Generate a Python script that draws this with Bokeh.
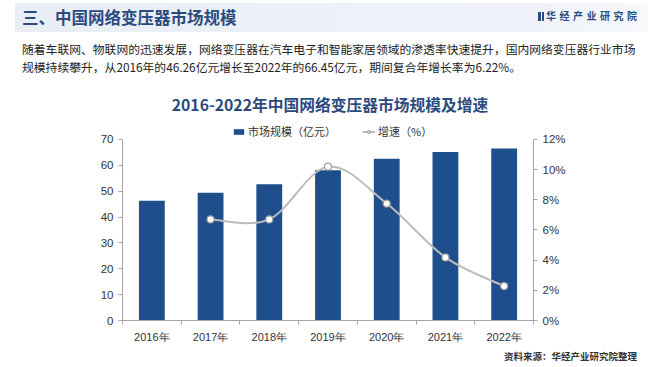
from bokeh.plotting import figure
from bokeh.layouts import column
from bokeh.models import (Range1d, LinearAxis, FixedTicker, PrintfTickFormatter, Div,
                          Legend, LegendItem, ColumnDataSource)
from bokeh.embed import file_html
from bokeh.resources import INLINE

# ---------------- data ----------------
years = ["2016年", "2017年", "2018年", "2019年", "2020年", "2021年", "2022年"]
market = [46.26, 49.36, 52.67, 58.04, 62.54, 65.15, 66.45]          # 市场规模（亿元）
growth_years = ["2017年", "2018年", "2019年", "2020年", "2021年", "2022年"]
growth = [6.70, 6.70, 10.20, 7.75, 4.18, 2.28]                        # 增速（%）
left_ticks = [0, 10, 20, 30, 40, 50, 60, 70]
right_ticks = [0, 2, 4, 6, 8, 10, 12]

header_title = "三、中国网络变压器市场规模"
brand = "华经产业研究院"
para1 = "随着车联网、物联网的迅速发展，网络变压器在汽车电子和智能家居领域的渗透率快速提升，国内网络变压器行业市场"
para2 = "规模持续攀升，从2016年的46.26亿元增长至2022年的66.45亿元，期间复合年增长率为6.22%。"
chart_title = "2016-2022年中国网络变压器市场规模及增速"
source_note = "资料来源：华经产业研究院整理"

BAR = "#1f4e8c"
LINE = "#bcbcbc"
DARK = "#2b4b7e"
AX = "#a6a6a6"
CJK = "Noto Sans CJK SC"
LAT = "Liberation Sans"

idx = list(range(len(years)))
gx = [years.index(y) for y in growth_years]

# ---------------- header (HTML) ----------------
def span(text, left, top, size, color, lh, weight="normal", extra=""):
    return (f'<div style="position:absolute;left:{left}px;top:{top}px;font-family:\'{CJK}\';'
            f'font-size:{size};line-height:{lh}px;color:{color};font-weight:{weight};'
            f'white-space:nowrap;{extra}">{text}</div>')

header_html = (
    '<div style="position:relative;width:660px;height:124px;overflow:visible;">'
    '<div style="position:absolute;left:15px;top:3px;width:633px;height:29px;'
    'background:linear-gradient(90deg,#e9eef6 0%,#eef2f8 80%,#f7f9fc 100%);"></div>'
    f'<div style="position:absolute;left:538px;top:12px;width:2.5px;height:9px;background:{DARK};"></div>'
    f'<div style="position:absolute;left:541.5px;top:12px;width:2.5px;height:9px;background:{DARK};"></div>'
    + span(header_title, 22, 7, "16.5px", DARK, 20, "bold")
    + span(brand, 546, 8, "10px", DARK, 16, "bold", "letter-spacing:3.5px;")
    + span(para1, 22, 40, "11.8px", "#222222", 18)
    + span(para2, 22, 58, "11.8px", "#222222", 18)
    + f'<div style="position:absolute;left:0px;top:95px;width:660px;text-align:center;'
      f'font-family:\'{CJK}\';font-size:15.75px;line-height:20px;color:{DARK};font-weight:bold;'
      f'white-space:nowrap;">{chart_title}</div>'
    + '</div>'
)
header = Div(text=header_html, width=660, height=124, margin=(0, 0, 0, 0))

# ---------------- chart ----------------
DATA_H = 182          # pixel height of the 0..70 span
LEGEND_ROOM = 15      # extra frame room above the top tick for the legend
scale_up = (DATA_H + LEGEND_ROOM) / DATA_H

p = figure(title=None, width=660, height=221,
           min_border_left=122, min_border_right=127,
           min_border_top=0, min_border_bottom=24,
           x_range=Range1d(-0.5, len(years) - 0.5),
           y_range=Range1d(0, left_ticks[-1] * scale_up),
           output_backend="svg", toolbar_location=None, margin=(0, 0, 0, 0),
           background_fill_color="white", border_fill_color="white")
p.outline_line_color = None
p.xgrid.visible = False
p.ygrid.visible = False
p.extra_y_ranges = {"pct": Range1d(0, right_ticks[-1] * scale_up)}

bars = p.vbar(x=idx, top=market, width=0.44, fill_color=BAR, line_color=None)

# smooth growth curve (Catmull-Rom -> cubic Bezier through the data points)
pts = list(zip(gx, growth))
n = len(pts)
seg = dict(x0=[], y0=[], x1=[], y1=[], cx0=[], cy0=[], cx1=[], cy1=[])
for i in range(n - 1):
    p0 = pts[i - 1] if i > 0 else pts[i]
    p1 = pts[i]
    p2 = pts[i + 1]
    p3 = pts[i + 2] if i + 2 < n else pts[i + 1]
    seg["x0"].append(p1[0]); seg["y0"].append(p1[1])
    seg["x1"].append(p2[0]); seg["y1"].append(p2[1])
    seg["cx0"].append(p1[0] + (p2[0] - p0[0]) / 6); seg["cy0"].append(p1[1] + (p2[1] - p0[1]) / 6)
    seg["cx1"].append(p2[0] - (p3[0] - p1[0]) / 6); seg["cy1"].append(p2[1] - (p3[1] - p1[1]) / 6)
curve = p.bezier(x0="x0", y0="y0", x1="x1", y1="y1", cx0="cx0", cy0="cy0", cx1="cx1", cy1="cy1",
                 source=ColumnDataSource(seg), y_range_name="pct", line_color=LINE, line_width=2)
dots = p.scatter(x=gx, y=growth, y_range_name="pct", size=7, fill_color="white",
                 line_color="#a0a0a0", line_width=1.2)

legend = Legend(items=[LegendItem(label="市场规模（亿元）", renderers=[bars]),
                       LegendItem(label="增速（%）", renderers=[curve, dots])],
                orientation="horizontal", location=(110, DATA_H - 1),
                border_line_color=None, background_fill_alpha=0,
                label_text_font_size="11px", label_text_font=CJK, label_text_color="#333333",
                glyph_width=13, glyph_height=7, spacing=26, padding=0, margin=0,
                label_standoff=3, label_height=14)
p.add_layout(legend, "center")

# axes
xa = p.xaxis[0]
xa.ticker = FixedTicker(ticks=idx, minor_ticks=[i - 0.5 for i in range(len(years) + 1)])
xa.major_label_overrides = {i: y for i, y in enumerate(years)}
xa.major_tick_line_color = None
xa.major_tick_out = 0
xa.minor_tick_in = 0
xa.minor_tick_out = 4
xa.minor_tick_line_color = AX
xa.axis_line_color = AX
xa.major_label_standoff = 6
xa.major_label_text_font = LAT
xa.major_label_text_font_size = "11px"
xa.major_label_text_color = "#333333"

ya = p.yaxis[0]
ya.ticker = FixedTicker(ticks=left_ticks)
ya.bounds = (left_ticks[0], left_ticks[-1])
ya.major_tick_in = 0
ya.major_tick_out = 4
ya.minor_tick_line_color = None
ya.axis_line_color = AX
ya.major_tick_line_color = AX
ya.major_label_standoff = 5
ya.major_label_text_font = LAT
ya.major_label_text_font_size = "11.5px"
ya.major_label_text_color = "#333333"

ra = LinearAxis(y_range_name="pct", ticker=FixedTicker(ticks=right_ticks),
                formatter=PrintfTickFormatter(format="%d%%"),
                bounds=(right_ticks[0], right_ticks[-1]))
ra.major_tick_in = 0
ra.major_tick_out = 4
ra.minor_tick_line_color = None
ra.axis_line_color = AX
ra.major_tick_line_color = AX
ra.major_label_standoff = 5
ra.major_label_text_font = LAT
ra.major_label_text_font_size = "11.5px"
ra.major_label_text_color = "#333333"
p.add_layout(ra, "right")

# ---------------- footer (HTML) ----------------
footer_html = (
    '<div style="position:relative;width:660px;height:22px;overflow:visible;">'
    f'<div style="position:absolute;right:23px;top:5px;font-family:\'{CJK}\';font-size:9.5px;'
    f'line-height:12px;color:#333333;font-weight:bold;white-space:nowrap;">{source_note}</div>'
    '</div>'
)
footer = Div(text=footer_html, width=660, height=22, margin=(0, 0, 0, 0))

layout = column(header, p, footer, spacing=0, margin=(0, 0, 0, 0))
open("out.html", "w").write(file_html(layout, INLINE))
